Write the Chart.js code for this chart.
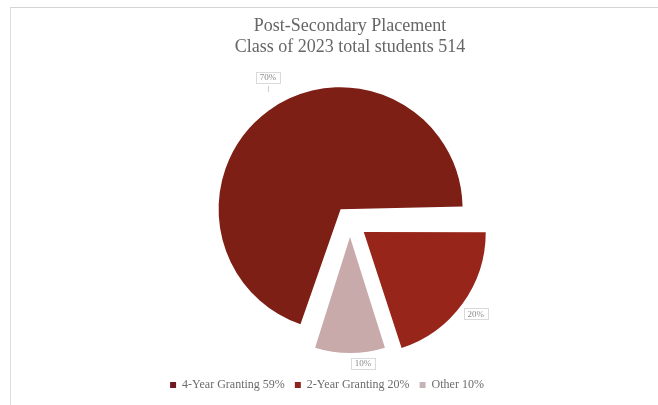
<!DOCTYPE html>
<html>
<head>
<meta charset="utf-8">
<script src="https://cdn.jsdelivr.net/npm/chart.js@4/dist/chart.umd.min.js"></script>
<style>
  html, body { margin: 0; padding: 0; background: #ffffff; }
  #wrap { position: relative; width: 658px; height: 405px; overflow: hidden; }
  #frame { position: absolute; left: 10px; top: 7px; right: -2px; bottom: -2px;
           border-top: 1px solid #d4d4d4; border-left: 1px solid #dcdcdc; }
  #c { position: absolute; left: 0; top: 0; }
</style>
</head>
<body>
<div id="wrap">
  <div id="frame"></div>
  <canvas id="c" width="658" height="405"></canvas>
</div>
<script>
// ---- data ----
const titleLines = ["Post-Secondary Placement", "Class of 2023 total students 514"];
const categories = ["4-Year Granting 59%", "2-Year Granting 20%", "Other 10%"];
const values = [70, 20, 10];
const valueLabels = ["70%", "20%", "10%"];

// ---- styles ----
const sliceColors = ["#7d1f15", "#982519", "#c9aaab"];
const legendColors = ["#6e1a22", "#8e2420", "#c4b4b6"];
// Chart.js v4 arcs move by offset/4
const sliceOffsets = [64, 68, 60];
const sliceRadiusTrim = [0, 0, 6];
const labelGap = [28.6, 16.4, 4.6];
const labelAngleShift = [6.5, 0, -5.3];
const textGray = "#6b6b6b";

// Chart.js enlarges exploded arcs (esp. those > 180deg); keep one common radius
const equalRadiusPlugin = {
  id: "equalRadius",
  afterDatasetsUpdate(chart) {
    const meta = chart.getDatasetMeta(0);
    meta.data.forEach((arc, i) => {
      const circ = arc.endAngle - arc.startAngle;
      const fix = 1 - Math.sin(Math.min(Math.PI, circ));
      arc.outerRadius = arc.outerRadius - (sliceOffsets[i] / 4) * fix - sliceRadiusTrim[i];
    });
  }
};

const dataLabelPlugin = {
  id: "dataLabels",
  afterDatasetsDraw(chart) {
    const ctx = chart.ctx;
    const meta = chart.getDatasetMeta(0);
    const R = chart.options.radius;
    ctx.save();
    ctx.font = "9px 'Liberation Serif', 'Times New Roman', serif";
    ctx.textAlign = "center";
    ctx.textBaseline = "middle";
    meta.data.forEach((arc, i) => {
      const p = arc.getProps(["x", "y", "startAngle", "endAngle"], true);
      const mid = (p.startAngle + p.endAngle) / 2 + labelAngleShift[i] * Math.PI / 180;
      const d = sliceOffsets[i] / 4 + R + labelGap[i];
      const lx = p.x + Math.cos(mid) * d;
      const ly = p.y + Math.sin(mid) * d;
      const txt = valueLabels[i];
      const w = Math.round(ctx.measureText(txt).width + 8);
      const h = 11;
      const bx = Math.round(lx - w / 2), by = Math.round(ly - h / 2);
      ctx.fillStyle = "#ffffff";
      ctx.fillRect(bx, by, w, h);
      ctx.strokeStyle = "#dadada";
      ctx.lineWidth = 1;
      ctx.strokeRect(bx + 0.5, by + 0.5, w, h);
      if (i === 0) {
        ctx.strokeStyle = "#cfcfcf";
        ctx.beginPath();
        ctx.moveTo(Math.round(lx) + 0.5, by + h + 3);
        ctx.lineTo(Math.round(lx) + 0.5, by + h + 9);
        ctx.stroke();
      }
      ctx.fillStyle = "#8a8a8a";
      ctx.fillText(txt, lx, ly + 1);
    });
    ctx.restore();
  }
};

const legendShiftPlugin = {
  id: "legendShift",
  afterLayout(chart) {
    const lg = chart.legend;
    if (lg && !lg._shifted) {
      const orig = lg.draw.bind(lg);
      lg.draw = function (area) {
        const ctx = chart.ctx;
        ctx.save();
        ctx.translate(-23, 0);
        orig(area);
        ctx.restore();
      };
      lg._shifted = true;
    }
  }
};

new Chart(document.getElementById("c"), {
  type: "pie",
  data: {
    labels: categories,
    datasets: [{
      data: values,
      backgroundColor: sliceColors,
      borderWidth: 0,
      offset: sliceOffsets,
      hoverOffset: 0
    }]
  },
  options: {
    responsive: false,
    animation: false,
    rotation: 198,
    radius: 122,
    layout: { padding: { left: 42, right: 0, top: 0, bottom: 4 } },
    plugins: {
      title: {
        display: true,
        text: titleLines,
        color: "#666666",
        font: { family: "'Liberation Serif', 'Times New Roman', serif", size: 18, weight: "normal", lineHeight: 1.2 },
        padding: { top: 15, bottom: 17 }
      },
      legend: {
        display: true,
        position: "bottom",
        labels: {
          color: "#6b6b6b",
          font: { family: "'Liberation Serif', 'Times New Roman', serif", size: 12 },
          boxWidth: 6,
          boxHeight: 6,
          padding: 10,
          generateLabels(chart) {
            return categories.map((t, i) => ({
              text: t,
              fillStyle: legendColors[i],
              strokeStyle: legendColors[i],
              lineWidth: 0,
              fontColor: textGray,
              hidden: false,
              index: i
            }));
          }
        }
      },
      tooltip: { enabled: false }
    }
  },
  plugins: [equalRadiusPlugin, dataLabelPlugin, legendShiftPlugin]
});
</script>
</body>
</html>
